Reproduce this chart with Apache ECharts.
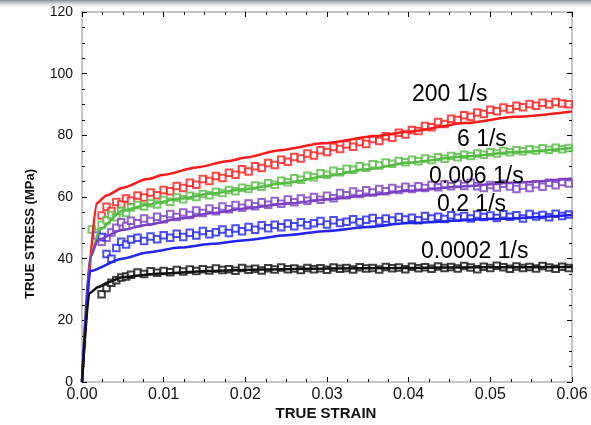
<!DOCTYPE html>
<html>
<head>
<meta charset="utf-8">
<script src="https://cdn.jsdelivr.net/npm/echarts@6/dist/echarts.min.js"></script>
<style>
  html, body { margin: 0; padding: 0; background: #fff; }
  #main { width: 591px; height: 425px; }
</style>
</head>
<body>
<div id="main"></div>
<script>
// strain rates, in the order they are labelled on the chart
var rateLabels = ['200 1/s', '6 1/s', '0.006 1/s', '0.2 1/s', '0.0002 1/s'];
var colors = ['#ff1a1a', '#55bb44', '#7b3fc4', '#1f24f0', '#111111'];

// model curves [strain, stress]
var redModel = [[0, 0], [0.0018, 58], [0.003, 60.5], [0.005, 63], [0.008, 65.8], [0.01, 67.2], [0.014, 69.6], [0.018, 71.7], [0.02, 72.8], [0.0242, 75.2], [0.0295, 77.4], [0.0356, 79.6], [0.04, 81.2], [0.047, 84.0], [0.053, 86], [0.06, 87.7]];
var greenModel = [[0, 0], [0.001, 40.5], [0.0022, 49.5], [0.0049, 55.5], [0.008, 57.5], [0.012, 59.5], [0.016, 61.2], [0.02, 62.6], [0.025, 64.6], [0.03, 66.8], [0.035, 69.0], [0.04, 71.2], [0.047, 73.2], [0.053, 74.6], [0.06, 75.9]];
var purpleModel = [[0, 0], [0.001, 40.5], [0.002, 46.2], [0.0049, 49.3], [0.008, 51.0], [0.012, 53.0], [0.016, 54.8], [0.02, 56.3], [0.025, 57.8], [0.03, 59.2], [0.035, 60.6], [0.04, 62.0], [0.047, 63.5], [0.053, 64.7], [0.06, 66.0]];
var blueModel = [[0, 0], [0.001, 36], [0.0049, 40], [0.008, 42], [0.012, 43.6], [0.016, 44.8], [0.02, 46.0], [0.025, 47.6], [0.03, 49.0], [0.035, 50.3], [0.04, 51.6], [0.05, 52.9], [0.06, 54.2]];
var blackModel = [[0, 0], [0.0009, 28.8], [0.002, 30.8], [0.0034, 32.5], [0.0049, 34.0], [0.0096, 35.2], [0.0157, 36.0], [0.022, 36.5], [0.03, 36.8], [0.04, 37.0], [0.05, 37.2], [0.06, 37.3]];

// experimental points
var expStrain = [0.0012, 0.0018, 0.0024, 0.003, 0.0036, 0.0042, 0.0048, 0.0054, 0.006,
  0.0068, 0.0076, 0.0084, 0.0092, 0.01, 0.0108, 0.0116, 0.0124, 0.0132, 0.014, 0.0148, 0.0156,
  0.0164, 0.0172, 0.018, 0.0188, 0.0196, 0.0204, 0.0212, 0.022, 0.0228, 0.0236, 0.0244, 0.0252,
  0.026, 0.0268, 0.0276, 0.0284, 0.0292, 0.03, 0.0308, 0.0316, 0.0324, 0.0332, 0.034, 0.0348,
  0.0356, 0.0364, 0.0372, 0.038, 0.0388, 0.0396, 0.0404, 0.0412, 0.042, 0.0428, 0.0436, 0.0444,
  0.0452, 0.046, 0.0468, 0.0476, 0.0484, 0.0492, 0.05, 0.0508, 0.0516, 0.0524, 0.0532, 0.054,
  0.0548, 0.0556, 0.0564, 0.0572, 0.058, 0.0588, 0.0596];

var redExp = [null, null, 54.0, 56.8, 55.5, 58.4, 57.6, 59.5, 58.8,
  60.5, 59.8, 61.5, 60.6, 62.3, 61.9, 63.6, 62.9, 64.6, 64.0, 65.8, 65.2,
  66.8, 66.2, 67.9, 67.2, 69.0, 68.3, 70.0, 69.4, 71.0, 70.4, 72.1, 71.4,
  73.0, 72.5, 74.1, 73.5, 75.2, 74.6, 76.2, 75.6, 77.0, 76.3, 77.8, 77.2,
  78.8, 78.2, 79.7, 79.2, 80.8, 80.3, 81.7, 81.4, 83.0, 82.6, 84.3, 83.7,
  85.4, 85.0, 86.5, 86.0, 87.4, 86.9, 88.3, 87.8, 89.0, 88.5, 89.6, 89.1,
  90.2, 89.6, 90.6, 90.0, 90.8, 90.3, 90.1];
var greenExp = [49.5, 48.3, 51.0, 52.5, 54.2, 53.4, 55.5, 54.8, 56.6,
  57.4, 56.9, 58.0, 57.6, 59.0, 58.5, 59.8, 59.3, 60.4, 60.0, 61.0, 60.6,
  61.7, 61.3, 62.3, 61.9, 63.0, 62.6, 63.7, 63.3, 64.5, 64.0, 65.3, 64.8,
  66.1, 65.6, 66.9, 66.4, 67.7, 67.2, 68.5, 68.0, 69.2, 68.8, 70.0, 69.5,
  70.6, 70.2, 71.2, 70.8, 71.7, 71.3, 72.1, 71.6, 72.5, 72.0, 72.9, 72.4,
  73.3, 72.9, 73.7, 73.3, 74.1, 73.7, 74.5, 74.1, 74.9, 74.5, 75.2, 74.8,
  75.5, 75.1, 75.8, 75.3, 76.0, 75.5, 75.9];
var purpleExp = [null, 47.5, 45.5, 46.8, 48.5, 50.0, 51.8, 50.6, 52.3,
  51.5, 53.0, 52.2, 53.6, 52.8, 54.5, 53.5, 55.0, 54.2, 55.6, 54.8, 56.3,
  55.4, 56.9, 56.0, 57.4, 56.5, 57.9, 57.0, 58.3, 57.5, 58.7, 57.8, 59.2,
  58.3, 59.5, 58.8, 60.0, 59.1, 60.4, 59.6, 61.3, 60.6, 61.8, 61.0, 62.2,
  61.5, 62.6, 61.9, 62.9, 62.3, 63.3, 62.6, 63.5, 62.9, 63.9, 63.2, 64.1,
  63.5, 64.3, 63.6, 64.6, 63.5, 62.9, 63.9, 63.1, 64.3, 63.4, 62.6, 63.7,
  62.9, 64.1, 63.3, 64.6, 63.8, 64.9, 64.4];
var blueExp = [null, null, 47.0, 41.5, 40.0, 43.5, 45.5, 44.6, 46.2,
  46.8, 45.7, 47.2, 46.3, 47.6, 46.8, 48.1, 47.0, 48.4, 47.5, 49.0, 47.9,
  48.6, 49.5, 48.3, 49.8, 48.9, 50.3, 49.4, 50.8, 49.9, 51.0, 50.2, 51.4,
  50.5, 51.8, 50.8, 51.5, 52.2, 51.1, 52.5, 51.6, 52.0, 52.8, 51.8, 52.6,
  53.2, 52.1, 53.0, 52.4, 53.5, 52.7, 53.3, 52.5, 53.8, 53.0, 53.6, 52.9,
  54.1, 53.3, 53.8, 53.0, 54.3, 53.5, 54.0, 53.2, 54.4, 53.6, 54.1, 53.0,
  54.5, 53.7, 54.2, 53.4, 54.6, 53.8, 54.3];
var blackExp = [null, null, 28.5, 30.5, 32.2, 33.0, 33.9, 34.2, 34.8,
  35.5, 35.0, 35.9, 35.4, 36.0, 35.6, 36.3, 35.8, 36.5, 36.0, 36.6, 36.2,
  36.8, 36.3, 36.6, 36.1, 37.0, 36.4, 36.7, 36.2, 36.9, 36.5, 37.1, 36.6,
  36.8, 36.3, 37.0, 36.6, 36.9, 36.4, 37.1, 36.7, 37.0, 36.5, 37.2, 36.8,
  37.0, 36.5, 37.3, 36.9, 37.1, 36.6, 37.4, 36.9, 37.2, 36.7, 37.5, 37.0,
  37.3, 36.8, 37.6, 37.1, 36.6, 37.4, 37.0, 37.7, 37.2, 36.7, 37.5, 37.0,
  37.3, 36.8, 37.6, 37.1, 36.7, 37.4, 37.0];

// axis ticks
var strainTicks = { min: 0, max: 0.06, interval: 0.01 };
var stressTicks = { min: 0, max: 120, interval: 20 };

var models = [redModel, greenModel, purpleModel, blueModel, blackModel];
var exps = [redExp, greenExp, purpleExp, blueExp, blackExp];

function pairs(ys) {
  var out = [];
  for (var i = 0; i < expStrain.length; i++) {
    if (ys[i] != null) out.push([expStrain[i], ys[i]]);
  }
  return out;
}

var font = 'Liberation Sans, Arial, Helvetica, sans-serif';

function xAxisCfg(pos, labels) {
  return {
    type: 'value', position: pos,
    min: strainTicks.min, max: strainTicks.max, interval: strainTicks.interval,
    axisLine: { show: true, onZero: false, lineStyle: { color: '#b4b4b4', width: 1.5 } },
    axisTick: { show: true, inside: true, length: 5, lineStyle: { color: '#000', width: 1 } },
    minorTick: { show: true, splitNumber: 4, length: 3, lineStyle: { color: '#000', width: 1 } },
    splitLine: { show: false },
    axisLabel: {
      show: labels, color: '#111', fontSize: 16, fontFamily: font, margin: 5,
      formatter: function (v) { return v.toFixed(2); }
    }
  };
}
function yAxisCfg(pos, labels) {
  return {
    type: 'value', position: pos,
    min: stressTicks.min, max: stressTicks.max, interval: stressTicks.interval,
    axisLine: { show: true, onZero: false, lineStyle: { color: '#b4b4b4', width: 1.5 } },
    axisTick: { show: true, inside: true, length: 5, lineStyle: { color: '#000', width: 1 } },
    minorTick: { show: true, splitNumber: 4, length: 3, lineStyle: { color: '#000', width: 1 } },
    splitLine: { show: false },
    axisLabel: { show: labels, color: '#111', fontSize: 14, fontFamily: font, margin: 9 }
  };
}

var series = [];
for (var k = 0; k < 5; k++) {
  series.push({
    type: 'scatter', name: rateLabels[k] + ' exp',
    data: pairs(exps[k]),
    symbol: 'emptyRect', symbolSize: 6.5,
    itemStyle: { color: colors[k], borderColor: colors[k], borderWidth: 1.3 },
    silent: true, z: 2
  });
  series.push({
    type: 'line', name: rateLabels[k],
    data: models[k],
    showSymbol: false, smooth: 0.25, smoothMonotone: 'x',
    lineStyle: { color: colors[k], width: 2.5 },
    silent: true, z: 3
  });
}

// label positions (pixels) next to each curve family
var labelPos = [[412, 95], [457, 140], [429, 177], [437, 205], [421, 252]];
var graphics = [
  {
    type: 'rect', left: 0, top: 0, z: 10,
    shape: { width: 591, height: 9 },
    style: {
      fill: new echarts.graphic.LinearGradient(0, 0, 0, 1, [
        { offset: 0, color: 'rgba(110,118,128,0.85)' },
        { offset: 1, color: 'rgba(255,255,255,0)' }
      ])
    }
  },
  {
    type: 'text', x: 30, y: 234, rotation: Math.PI / 2,
    style: { text: 'TRUE STRESS (MPa)', font: 'bold 13px ' + font, fill: '#111', align: 'center', verticalAlign: 'middle' }
  },
  {
    type: 'text', x: 326, y: 414,
    style: { text: 'TRUE STRAIN', font: 'bold 15px ' + font, fill: '#111', align: 'center', verticalAlign: 'middle' }
  }
];
for (var j = 0; j < rateLabels.length; j++) {
  graphics.push({
    type: 'text', x: labelPos[j][0], y: labelPos[j][1], z: 5,
    style: { text: rateLabels[j], font: '23px ' + font, fill: '#000', align: 'left', verticalAlign: 'middle' }
  });
}

var chartDom = document.getElementById('main');
var myChart = echarts.init(chartDom, null, { renderer: 'canvas' });
var option = {
  animation: false,
  backgroundColor: '#fff',
  grid: { left: 82, right: 19, top: 12, bottom: 43, containLabel: false },
  xAxis: [xAxisCfg('bottom', true), xAxisCfg('top', false)],
  yAxis: [yAxisCfg('left', true), yAxisCfg('right', false)],
  series: series,
  graphic: graphics
};
option && myChart.setOption(option);
</script>
</body>
</html>
